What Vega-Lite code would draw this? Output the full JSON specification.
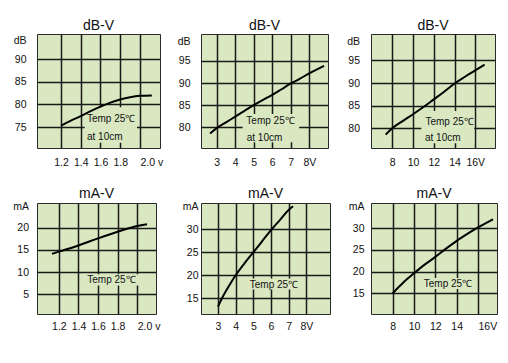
{
  "$schema": "https://vega.github.io/schema/vega-lite/v6.json",
  "background": "white",
  "padding": {"left": 12, "top": 18, "right": 2, "bottom": 2},
  "config": {
    "view": {"fill": "#d9e8c1", "stroke": "#2a2a2a", "strokeWidth": 1},
    "axis": {"domain": false, "ticks": false, "tickSize": 0, "labelFont": "Liberation Sans, Arial, sans-serif", "labelFontSize": 10.5, "labelColor": "#111111", "gridColor": "#1a1a1a", "gridWidth": 1.5, "gridOpacity": 1, "title": null, "labelOverlap": false, "labelBound": false},
    "title": {"font": "Liberation Sans, Arial, sans-serif", "fontSize": 14, "fontWeight": "normal", "color": "#111111", "offset": 3, "dy": 2},
    "text": {"font": "Liberation Sans, Arial, sans-serif", "fontSize": 10, "color": "#111111", "align": "left", "baseline": "middle"},
    "line": {"color": "#000000", "strokeWidth": 2, "interpolate": "monotone"},
    "rect": {"color": "#d9e8c1"}
  },
  "columns": 3,
  "bounds": "flush",
  "align": {"row": "all", "column": "none"},
  "spacing": {"row": 55, "column": 41},
  "concat": [
    {
      "width": 123, "height": 114,
      "title": {"text": "dB-V"},
      "encoding": {
        "x": {"field": "v", "type": "quantitative", "scale": {"domain": [0.957, 2.203], "nice": false, "zero": false},
              "axis": {"values": [1.2, 1.4, 1.6, 1.8, 2.0], "labelExpr": "datum.value == 2 ? '2.0 v' : format(datum.value, '.1f')", "labelPadding": 9,
                       "labelAlign": {"condition": {"test": "datum.value == 2", "value": "left"}, "value": "center"}}},
        "y": {"field": "y", "type": "quantitative", "scale": {"domain": [70.35, 95.6], "nice": false, "zero": false},
              "axis": {"values": [75, 80, 85, 90, 94.2], "labelExpr": "datum.value > 93 ? 'dB' : datum.label", "labelPadding": 11,
                       "gridOpacity": {"condition": {"test": "datum.value > 93", "value": 0}, "value": 1}}}
      },
      "layer": [
        {"data": {"values": [{"v": 1.44, "v2": 1.97, "y": 71.5, "y2": 79.4}]}, "mark": {"type": "rect"}, "encoding": {"x2": {"field": "v2"}, "y2": {"field": "y2"}}},
        {"data": {"values": [
          {"v": 1.2, "y": 75.3}, {"v": 1.3, "y": 76.4}, {"v": 1.4, "y": 77.4}, {"v": 1.5, "y": 78.5}, {"v": 1.6, "y": 79.5},
          {"v": 1.7, "y": 80.4}, {"v": 1.8, "y": 81.1}, {"v": 1.9, "y": 81.6}, {"v": 2.0, "y": 81.9}, {"v": 2.12, "y": 82.0}]},
         "mark": {"type": "line"}, "encoding": {}},
        {"data": {"values": [{"v": 1.463, "y": 76.8, "t": "Temp 25℃"}, {"v": 1.463, "y": 72.85, "t": "at 10cm"}]},
         "mark": {"type": "text"}, "encoding": {"text": {"field": "t"}}}
      ]
    },
    {
      "width": 127, "height": 114,
      "title": {"text": "dB-V"},
      "encoding": {
        "x": {"field": "v", "type": "quantitative", "scale": {"domain": [2.15, 9.01], "nice": false, "zero": false},
              "axis": {"values": [3, 4, 5, 6, 7, 8], "labelExpr": "datum.value == 8 ? '8V' : datum.label", "labelPadding": 9}},
        "y": {"field": "y", "type": "quantitative", "scale": {"domain": [75.3, 101.1], "nice": false, "zero": false},
              "axis": {"values": [80, 85, 90, 95, 99.4], "labelExpr": "datum.value > 98 ? 'dB' : datum.label", "labelPadding": 11,
                       "gridOpacity": {"condition": {"test": "datum.value > 98", "value": 0}, "value": 1}}}
      },
      "layer": [
        {"data": {"values": [{"v": 4.4, "v2": 7.45, "y": 76.6, "y2": 83.0}]}, "mark": {"type": "rect"}, "encoding": {"x2": {"field": "v2"}, "y2": {"field": "y2"}}},
        {"data": {"values": [
          {"v": 2.64, "y": 78.6}, {"v": 3, "y": 79.8}, {"v": 3.5, "y": 81.1}, {"v": 4, "y": 82.4}, {"v": 4.5, "y": 83.7},
          {"v": 5, "y": 85.0}, {"v": 5.5, "y": 86.2}, {"v": 6, "y": 87.3}, {"v": 6.5, "y": 88.6}, {"v": 7, "y": 89.9},
          {"v": 7.5, "y": 91.0}, {"v": 8, "y": 92.2}, {"v": 8.8, "y": 93.9}]},
         "mark": {"type": "line"}, "encoding": {}},
        {"data": {"values": [{"v": 4.6, "y": 81.3, "t": "Temp 25℃"}, {"v": 4.62, "y": 77.5, "t": "at 10cm"}]},
         "mark": {"type": "text"}, "encoding": {"text": {"field": "t"}}}
      ]
    },
    {
      "width": 124, "height": 114,
      "title": {"text": "dB-V"},
      "encoding": {
        "x": {"field": "v", "type": "quantitative", "scale": {"domain": [5.95, 17.9], "nice": false, "zero": false},
              "axis": {"values": [8, 10, 12, 14, 16], "labelExpr": "datum.value == 16 ? '16V' : datum.label", "labelPadding": 9}},
        "y": {"field": "y", "type": "quantitative", "scale": {"domain": [75.64, 100.86], "nice": false, "zero": false},
              "axis": {"values": [80, 85, 90, 95, 99.2], "labelExpr": "datum.value > 98 ? 'dB' : datum.label", "labelPadding": 11.5,
                       "gridOpacity": {"condition": {"test": "datum.value > 98", "value": 0}, "value": 1}}}
      },
      "layer": [
        {"data": {"values": [{"v": 10.8, "v2": 15.9, "y": 76.7, "y2": 83.8}]}, "mark": {"type": "rect"}, "encoding": {"x2": {"field": "v2"}, "y2": {"field": "y2"}}},
        {"data": {"values": [
          {"v": 7.36, "y": 78.6}, {"v": 8, "y": 80.0}, {"v": 9, "y": 81.6}, {"v": 10, "y": 83.1}, {"v": 11, "y": 84.7},
          {"v": 12, "y": 86.4}, {"v": 13, "y": 88.1}, {"v": 14, "y": 89.9}, {"v": 15, "y": 91.4}, {"v": 16, "y": 92.8},
          {"v": 16.9, "y": 94.1}]},
         "mark": {"type": "line"}, "encoding": {}},
        {"data": {"values": [{"v": 11.2, "y": 81.5, "t": "Temp 25℃"}, {"v": 11.15, "y": 77.9, "t": "at 10cm"}]},
         "mark": {"type": "text"}, "encoding": {"text": {"field": "t"}}}
      ]
    },
    {
      "width": 119, "height": 111,
      "title": {"text": "mA-V"},
      "encoding": {
        "x": {"field": "v", "type": "quantitative", "scale": {"domain": [0.977, 2.192], "nice": false, "zero": false},
              "axis": {"values": [1.2, 1.4, 1.6, 1.8, 2.0], "labelExpr": "datum.value == 2 ? '2.0 v' : format(datum.value, '.1f')", "labelPadding": 7,
                       "labelAlign": {"condition": {"test": "datum.value == 2", "value": "left"}, "value": "center"}}},
        "y": {"field": "y", "type": "quantitative", "scale": {"domain": [0.56, 25.56], "nice": false, "zero": false},
              "axis": {"values": [5, 10, 15, 20, 24.7], "labelExpr": "datum.value > 24 ? 'mA' : datum.label", "labelPadding": 8.5,
                       "gridOpacity": {"condition": {"test": "datum.value > 24", "value": 0}, "value": 1}}}
      },
      "layer": [
        {"data": {"values": [{"v": 1.48, "v2": 2.03, "y": 7.0, "y2": 9.5}]}, "mark": {"type": "rect"}, "encoding": {"x2": {"field": "v2"}, "y2": {"field": "y2"}}},
        {"data": {"values": [
          {"v": 1.13, "y": 14.1}, {"v": 1.2, "y": 14.6}, {"v": 1.4, "y": 16.0}, {"v": 1.6, "y": 17.6},
          {"v": 1.8, "y": 19.1}, {"v": 2.0, "y": 20.4}, {"v": 2.1, "y": 20.8}]},
         "mark": {"type": "line"}, "encoding": {}},
        {"data": {"values": [{"v": 1.49, "y": 8.27, "t": "Temp 25℃"}]},
         "mark": {"type": "text"}, "encoding": {"text": {"field": "t"}}}
      ]
    },
    {
      "width": 129, "height": 111,
      "title": {"text": "mA-V"},
      "encoding": {
        "x": {"field": "v", "type": "quantitative", "scale": {"domain": [2.04, 9.34], "nice": false, "zero": false},
              "axis": {"values": [3, 4, 5, 6, 7, 8], "labelExpr": "datum.value == 8 ? '8V' : datum.label", "labelPadding": 7}},
        "y": {"field": "y", "type": "quantitative", "scale": {"domain": [11.6, 35.7], "nice": false, "zero": false},
              "axis": {"values": [15, 20, 25, 30, 34.9], "labelExpr": "datum.value > 34 ? 'mA' : datum.label", "labelPadding": 3,
                       "gridOpacity": {"condition": {"test": "datum.value > 34", "value": 0}, "value": 1}}}
      },
      "layer": [
        {"data": {"values": [{"v": 4.75, "v2": 7.6, "y": 16.9, "y2": 19.3}]}, "mark": {"type": "rect"}, "encoding": {"x2": {"field": "v2"}, "y2": {"field": "y2"}}},
        {"data": {"values": [
          {"v": 3.0, "y": 13.2}, {"v": 3.25, "y": 15.2}, {"v": 3.5, "y": 16.9}, {"v": 3.75, "y": 18.5}, {"v": 4, "y": 20.0},
          {"v": 4.5, "y": 22.6}, {"v": 5, "y": 25.0}, {"v": 5.5, "y": 27.4}, {"v": 6, "y": 29.8}, {"v": 6.5, "y": 32.0},
          {"v": 7, "y": 34.2}, {"v": 7.25, "y": 35.0}]},
         "mark": {"type": "line"}, "encoding": {}},
        {"data": {"values": [{"v": 4.8, "y": 18.0, "t": "Temp 25℃"}]},
         "mark": {"type": "text"}, "encoding": {"text": {"field": "t"}}}
      ]
    },
    {
      "width": 126, "height": 111,
      "title": {"text": "mA-V"},
      "encoding": {
        "x": {"field": "v", "type": "quantitative", "scale": {"domain": [5.97, 17.78], "nice": false, "zero": false},
              "axis": {"values": [8, 10, 12, 14, 16], "labelExpr": "datum.value == 16 ? '16V' : datum.label", "labelPadding": 7,
                       "labelAlign": {"condition": {"test": "datum.value == 16", "value": "left"}, "value": "center"}}},
        "y": {"field": "y", "type": "quantitative", "scale": {"domain": [10.2, 35.85], "nice": false, "zero": false},
              "axis": {"values": [15, 20, 25, 30, 35], "labelExpr": "datum.value > 34 ? 'mA' : datum.label", "labelPadding": 7,
                       "gridOpacity": {"condition": {"test": "datum.value > 34", "value": 0}, "value": 1}}}
      },
      "layer": [
        {"data": {"values": [{"v": 10.85, "v2": 15.3, "y": 16.0, "y2": 18.5}]}, "mark": {"type": "rect"}, "encoding": {"x2": {"field": "v2"}, "y2": {"field": "y2"}}},
        {"data": {"values": [
          {"v": 8.0, "y": 15.0}, {"v": 9, "y": 17.5}, {"v": 10, "y": 19.6}, {"v": 11, "y": 21.6}, {"v": 12, "y": 23.4},
          {"v": 13, "y": 25.3}, {"v": 14, "y": 27.1}, {"v": 15, "y": 28.7}, {"v": 16, "y": 30.2}, {"v": 17.4, "y": 32.1}]},
         "mark": {"type": "line"}, "encoding": {}},
        {"data": {"values": [{"v": 10.92, "y": 17.2, "t": "Temp 25℃"}]},
         "mark": {"type": "text"}, "encoding": {"text": {"field": "t"}}}
      ]
    }
  ]
}
